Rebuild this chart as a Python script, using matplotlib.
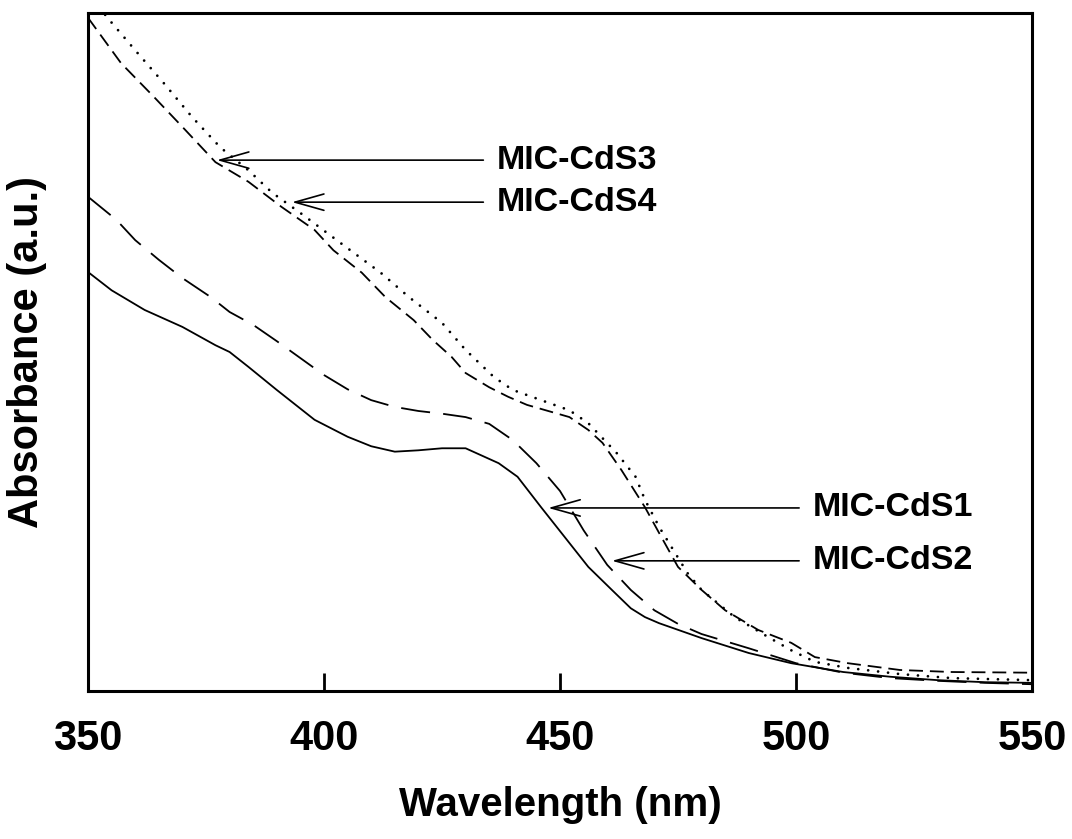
import matplotlib
matplotlib.use("Agg")
import matplotlib.pyplot as plt

plt.rcParams['font.family'] = ['Liberation Sans', 'DejaVu Sans']
plt.rcParams['font.weight'] = 'bold'
plt.rcParams['lines.scale_dashes'] = False

# MIC-CdS1 (solid)
wl_1 = [350, 355, 362, 370, 377, 380, 384, 390, 398, 405, 410, 415, 420, 425, 430,
        437, 441, 446, 451, 456, 461, 465, 468, 471, 480, 490, 499, 510, 520, 530, 540, 550]
abs_1 = [61.8, 59.1, 56.2, 53.7, 51.0, 50.0, 47.8, 44.4, 40.0, 37.5, 36.1, 35.3, 35.5, 35.8, 35.8,
         33.6, 31.6, 27.1, 22.7, 18.3, 14.9, 12.2, 10.9, 10.0, 7.8, 5.6, 4.1, 2.8, 2.1, 1.6, 1.3, 1.2]

# MIC-CdS2 (long dash)
wl_2 = [350, 356, 360, 365, 370, 376, 380, 385, 390, 395, 400, 405, 410, 415, 420, 425,
        430, 435, 440, 445, 450, 455, 460, 465, 470, 475, 480, 490, 500, 510, 520, 530, 540, 550]
abs_2 = [72.9, 69.5, 66.5, 63.6, 60.9, 58.1, 55.9, 54.0, 51.6, 49.1, 46.6, 44.5, 42.9, 41.9, 41.3, 40.9,
         40.4, 39.4, 37.0, 33.6, 29.5, 23.7, 18.6, 14.9, 11.9, 9.9, 8.4, 6.3, 4.1, 2.7, 1.9, 1.5, 1.2, 1.0]

# MIC-CdS3 (dashed)
wl_3 = [350, 357, 364, 370, 377, 384, 391, 398, 402, 408, 413, 419, 423, 427, 430, 435, 439,
        443, 447, 452, 456, 459, 463, 468, 471, 475, 480, 485, 492, 499, 504, 511, 522, 533, 550]
abs_3 = [99.3, 92.6, 87.6, 83.2, 78.0, 75.1, 71.4, 68.0, 65.0, 61.7, 58.1, 54.7, 51.8, 49.3, 46.9, 44.8, 43.4,
         42.2, 41.4, 40.4, 38.5, 36.6, 32.6, 27.1, 23.3, 18.3, 14.9, 11.9, 9.0, 7.1, 5.0, 4.1, 3.1, 2.8, 2.7]

# MIC-CdS4 (dotted)
wl_4 = [350, 354, 360, 366, 372, 378, 384, 389, 395, 405, 412, 418, 425, 430, 436, 440, 446,
        452, 456, 462, 466, 468, 471, 474, 477, 480, 487, 494, 499, 504, 511, 522, 533, 550]
abs_4 = [103.0, 99.4, 94.5, 89.7, 84.7, 80.2, 76.8, 73.5, 70.5, 65.3, 61.7, 58.1, 54.3, 50.3, 46.3, 44.4, 42.9,
         41.4, 39.5, 35.1, 31.6, 28.2, 24.2, 20.8, 17.4, 14.9, 10.9, 8.0, 6.0, 4.3, 3.4, 2.5, 1.9, 1.6]

ann_names = ["MIC-CdS3", "MIC-CdS4", "MIC-CdS1", "MIC-CdS2"]
ann_tip_x = [377.3, 393.2, 447.5, 461.0]
ann_tip_y = [78.3, 72.1, 27.0, 19.2]
ann_text_x = [436.7, 436.7, 503.6, 503.6]

fig = plt.figure(figsize=(10.72, 8.39), dpi=100)
ax = fig.add_axes([0.0821, 0.1764, 0.8806, 0.8081])

lw = 1.3
ax.plot(wl_1, abs_1, color='black', lw=lw, linestyle='-')
ax.plot(wl_2, abs_2, color='black', lw=lw, dashes=(21, 9.5))
ax.plot(wl_3, abs_3, color='black', lw=lw, dashes=(10, 5))
ax.plot(wl_4, abs_4, color='black', lw=2.0, dashes=(0.01, 7.2),
        dash_capstyle='round')

for name, tx, ty, lx in zip(ann_names, ann_tip_x, ann_tip_y, ann_text_x):
    ax.annotate(
        name,
        xy=(tx, ty),
        xytext=(lx, ty),
        fontsize=24.5,
        fontweight='bold',
        ha='left',
        va='center',
        arrowprops=dict(
            arrowstyle='->, head_length=0.85, head_width=0.24',
            color='black',
            lw=1.2,
            shrinkA=8,
            shrinkB=0,
            relpos=(0, 0.5),
        ),
    )

ax.set_xlim(350, 550)
ax.set_ylim(0, 100)
ax.set_xticks([350, 400, 450, 500, 550])
ax.set_yticks([])

ax.tick_params(axis='x', direction='in', length=13, width=2, labelsize=30, pad=20)
for lab in ax.get_xticklabels():
    lab.set_fontweight('bold')

for sp in ax.spines.values():
    sp.set_linewidth(2.2)

ax.set_xlabel("Wavelength (nm)", fontsize=29, fontweight='bold')
ax.xaxis.set_label_coords(0.5, -0.14)
ax.xaxis.label.set_va('top')
ax.set_ylabel("Absorbance (a.u.)", fontsize=30, fontweight='bold')
ax.yaxis.set_label_coords(-0.043, 0.5)

fig.savefig("out.png", dpi=100)
